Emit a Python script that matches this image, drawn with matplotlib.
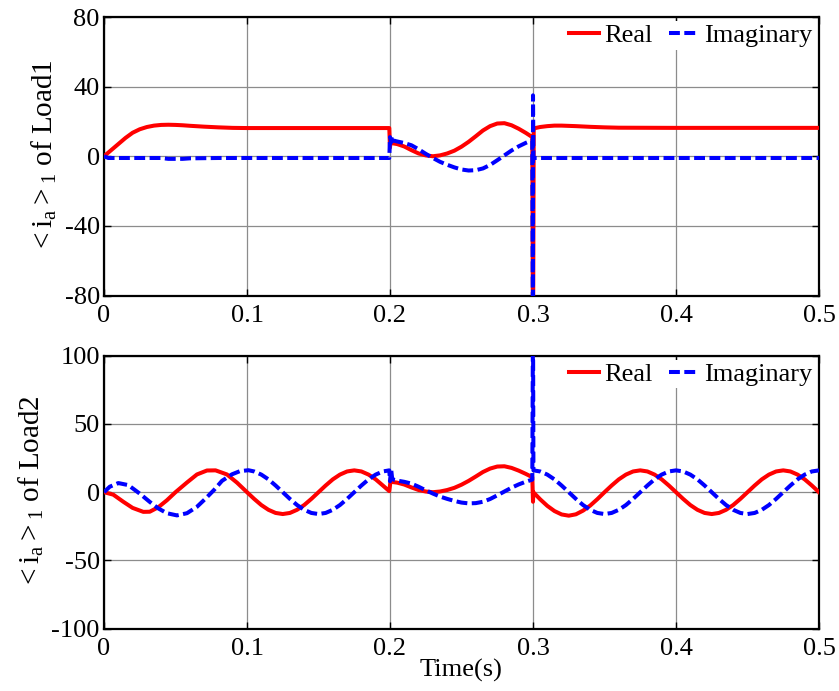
import numpy as np
import matplotlib
matplotlib.use('Agg')
import matplotlib.pyplot as plt

plt.rcParams['font.family'] = ['Liberation Serif', 'DejaVu Serif']
plt.rcParams['mathtext.fontset'] = 'custom'
plt.rcParams['mathtext.rm'] = 'Liberation Serif'
plt.rcParams['mathtext.it'] = 'Liberation Serif'
plt.rcParams['font.size'] = 18

# --- Load1 (top) ---
t_re1 = [0, 0.005, 0.01, 0.015, 0.02, 0.025, 0.03, 0.035, 0.04, 0.045, 0.05, 0.055,
         0.06, 0.07, 0.08, 0.09, 0.1, 0.15, 0.1995, 0.2, 0.2005, 0.2015, 0.205, 0.21,
         0.215, 0.22, 0.225, 0.23, 0.235, 0.24, 0.245, 0.25, 0.255, 0.26, 0.265, 0.27,
         0.275, 0.28, 0.285, 0.29, 0.295, 0.2995, 0.3, 0.3005, 0.305, 0.31, 0.315, 0.32,
         0.33, 0.34, 0.35, 0.36, 0.4, 0.5]
re1 = [0, 3.5, 7, 10.5, 13.5, 15.5, 16.8, 17.6, 18, 18.1, 18, 17.8,
       17.5, 17, 16.6, 16.3, 16.2, 16.2, 16.2, 5, 10, 7.5, 7, 5.6,
       3.5, 1.6, 0.5, 0, 0.5, 1.6, 3.2, 5.5, 8.3, 11.5, 14.8, 17.3,
       18.8, 19, 17.8, 15.8, 13.4, 11, -120, 16, 16.8, 17.3, 17.6, 17.6,
       17.3, 16.9, 16.6, 16.4, 16.3, 16.3]

t_im1 = [0, 0.003, 0.04, 0.045, 0.055, 0.06, 0.08, 0.1995, 0.2, 0.2008, 0.2015, 0.2025,
         0.205, 0.21, 0.215, 0.22, 0.225, 0.23, 0.235, 0.24, 0.245, 0.25, 0.255, 0.26,
         0.265, 0.27, 0.275, 0.28, 0.285, 0.29, 0.295, 0.2995, 0.3, 0.3, 0.3003, 0.5]
im1 = [0, -1, -1, -1.5, -1.5, -1.2, -1, -1, 11, 8, 11.5, 9,
       8.5, 7.6, 6.3, 4, 1.4, -1, -3.2, -4.9, -6.4, -7.6, -8.2, -8,
       -7, -5, -2.3, 0.5, 3.3, 5.7, 7.7, 9.2, -120, 35, -1, -1]

# --- Load2 (bottom) ---
t_re2 = [0, 0.0065, 0.0135, 0.02, 0.0275, 0.032, 0.038, 0.044, 0.05, 0.058, 0.065, 0.072,
         0.078, 0.086, 0.093, 0.1, 0.105, 0.11, 0.115, 0.12, 0.125, 0.13, 0.135, 0.14,
         0.145, 0.15, 0.155, 0.16, 0.165, 0.17, 0.175, 0.18, 0.185, 0.19, 0.195, 0.1995,
         0.2, 0.2005, 0.2015, 0.205, 0.21, 0.215, 0.22, 0.225, 0.23, 0.235, 0.24, 0.245,
         0.25, 0.255, 0.26, 0.265, 0.27, 0.275, 0.28, 0.285, 0.29, 0.295, 0.2995, 0.3,
         0.3002, 0.305, 0.31, 0.315, 0.32, 0.325, 0.33, 0.335, 0.34, 0.345, 0.35, 0.355,
         0.36, 0.365, 0.37, 0.375, 0.38, 0.385, 0.39, 0.395, 0.4, 0.405, 0.41, 0.415,
         0.42, 0.425, 0.43, 0.435, 0.44, 0.445, 0.45, 0.455, 0.46, 0.465, 0.47, 0.475,
         0.48, 0.485, 0.49, 0.495, 0.5]
re2 = [0, -1.8, -7, -11.5, -14.4, -14.3, -11, -5.9, 0, 7.1, 13, 15.9,
       16, 13, 7, 0, -4.9, -9.4, -12.9, -15.2, -16, -15.2, -12.9, -9.4,
       -4.9, 0, 4.9, 9.4, 12.9, 15.2, 16, 15.2, 12.9, 9.4, 4.9, 0.8,
       5, 10, 7.5, 7, 5.6, 3.5, 1.6, 0.5, 0, 0.5, 1.6, 3.2,
       5.5, 8.3, 11.5, 14.8, 17.3, 18.8, 19, 17.8, 15.8, 13.4, 11, -7,
       0, -5.2, -10, -13.8, -16.3, -17.2, -16.2, -13.5, -9.8, -5.1, 0, 4.9,
       9.4, 12.9, 15.2, 16, 15.2, 12.9, 9.4, 4.9, 0, -4.9, -9.4, -12.9,
       -15.2, -16, -15.2, -12.9, -9.4, -4.9, 0, 4.9, 9.4, 12.9, 15.2, 16,
       15.2, 12.9, 9.4, 4.9, 0]

t_im2 = [0, 0.004, 0.01, 0.017, 0.0252, 0.032, 0.038, 0.044, 0.051, 0.058, 0.065, 0.071,
         0.077, 0.0825, 0.0895, 0.095, 0.101, 0.105, 0.11, 0.115, 0.12, 0.125, 0.13, 0.135,
         0.14, 0.145, 0.15, 0.155, 0.16, 0.165, 0.17, 0.175, 0.18, 0.185, 0.19, 0.195,
         0.1995, 0.2, 0.2008, 0.2015, 0.203, 0.205, 0.21, 0.215, 0.22, 0.225, 0.23, 0.235,
         0.24, 0.245, 0.25, 0.255, 0.26, 0.265, 0.27, 0.275, 0.28, 0.285, 0.29, 0.295,
         0.2995, 0.3, 0.3003, 0.305, 0.31, 0.315, 0.32, 0.325, 0.33, 0.335, 0.34, 0.345,
         0.35, 0.355, 0.36, 0.365, 0.37, 0.375, 0.38, 0.385, 0.39, 0.395, 0.4, 0.405,
         0.41, 0.415, 0.42, 0.425, 0.43, 0.435, 0.44, 0.445, 0.45, 0.455, 0.46, 0.465,
         0.47, 0.475, 0.48, 0.485, 0.49, 0.495, 0.5]
im2 = [0, 4, 6.7, 5.2, -1.2, -7.1, -11.9, -15.4, -17, -15.4, -10.7, -4.7,
       1.7, 8.3, 13.1, 15.4, 16.1, 15.2, 12.9, 9.4, 4.9, 0, -4.9, -9.4,
       -12.9, -15.2, -16, -15.2, -12.9, -9.4, -4.9, 0, 4.9, 9.4, 12.9, 15.2,
       16, 8, 17, 10, 9, 8.5, 7.6, 6.3, 4, 1.4, -1, -3.2,
       -4.9, -6.4, -7.6, -8.2, -8, -7, -5, -2.3, 0.5, 3.3, 5.7, 7.7,
       9.2, 130, 16, 15.2, 12.9, 9.4, 4.9, 0, -4.9, -9.4, -12.9, -15.2,
       -16, -15.2, -12.9, -9.4, -4.9, 0, 4.9, 9.4, 12.9, 15.2, 16, 15.2,
       12.9, 9.4, 4.9, 0, -4.9, -9.4, -12.9, -15.2, -16, -15.2, -12.9, -9.4,
       -4.9, 0, 4.9, 9.4, 12.9, 15.2, 16]

W, H = 839, 691
fig = plt.figure(figsize=(W / 100, H / 100), dpi=100)
ax1 = fig.add_axes([104 / W, 1 - 295.5 / H, 715 / W, 278.5 / H])
ax2 = fig.add_axes([104 / W, 1 - 628.7 / H, 715 / W, 273 / H])


def style(ax, ylim, yticks, ylab):
    ax.set_xlim(0, 0.5)
    ax.set_ylim(*ylim)
    ax.set_xticks([0, 0.1, 0.2, 0.3, 0.4, 0.5])
    ax.set_xticklabels(['0', '0.1', '0.2', '0.3', '0.4', '0.5'])
    ax.set_yticks(yticks)
    ax.set_yticklabels([str(v) for v in yticks])
    ax.grid(True, color='#8c8c8c', linewidth=0.9, zorder=0)
    ax.tick_params(direction='in', length=5, width=1, top=True, right=True, labelsize=19)
    ax.tick_params(axis='x', pad=7)
    ax.tick_params(axis='y', pad=3)
    for s in ax.spines.values():
        s.set_linewidth(1.6)
    ax.set_ylabel(ylab, labelpad=4, fontsize=21)
    ax.legend(loc='upper right', ncol=2, frameon=True, facecolor='white', edgecolor='none',
              framealpha=1, fancybox=False, handlelength=1.15, handletextpad=0.2,
              columnspacing=0.6, borderpad=0.1, borderaxespad=0.15, fontsize=19)


ax1.plot(t_re1, re1, color='red', linewidth=2.9, label='Real', zorder=3)
ax1.plot(t_im1, im1, color='blue', linewidth=2.9, linestyle=(0, (2.7, 1.1)), label='Imaginary', zorder=4)
style(ax1, (-80, 80), [-80, -40, 0, 40, 80], r'$\mathrm{<i_a>_1}$ of Load1')

ax2.plot(t_re2, re2, color='red', linewidth=2.9, label='Real', zorder=3)
ax2.plot(t_im2, im2, color='blue', linewidth=2.9, linestyle=(0, (2.7, 1.1)), label='Imaginary', zorder=4)
style(ax2, (-100, 100), [-100, -50, 0, 50, 100], r'$\mathrm{<i_a>_1}$ of Load2')
ax2.set_xlabel('Time(s)', labelpad=-1, fontsize=19)

fig.savefig('out.png', dpi=100)
